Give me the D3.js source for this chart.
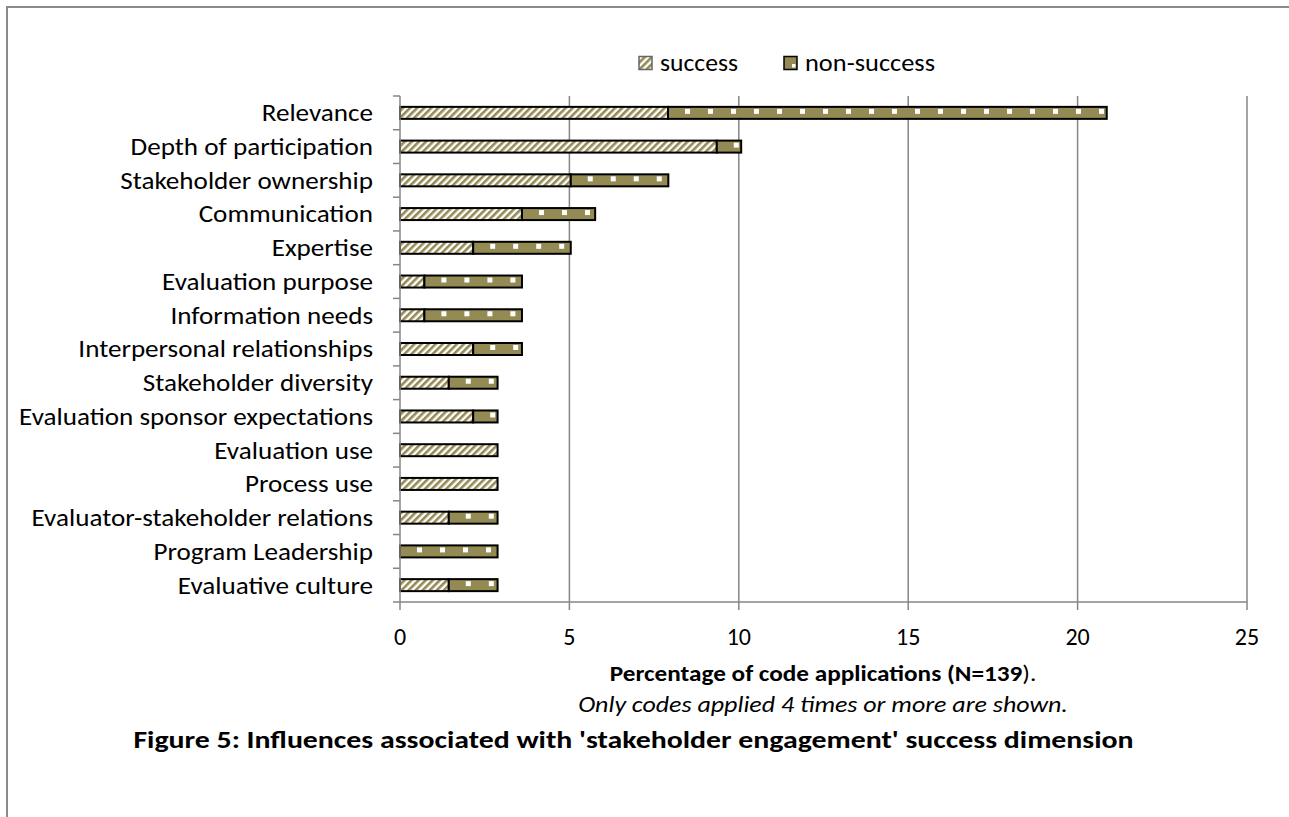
<!DOCTYPE html>
<html><head><meta charset="utf-8">
<script src="https://cdn.jsdelivr.net/npm/d3@7"></script>
<style>
html,body{margin:0;padding:0;background:#fff;}
svg{display:block;}
text{font-family:Carlito, Calibri, Lato, "Open Sans", sans-serif;fill:#000;}
</style></head>
<body>
<svg id="chart" width="1289" height="817"></svg>
<script>
const categories = ["Relevance","Depth of participation","Stakeholder ownership","Communication","Expertise","Evaluation purpose","Information needs","Interpersonal relationships","Stakeholder diversity","Evaluation sponsor expectations","Evaluation use","Process use","Evaluator-stakeholder relations","Program Leadership","Evaluative culture"];
const successVals = [7.91, 9.35, 5.04, 3.60, 2.16, 0.72, 0.72, 2.16, 1.44, 2.16, 2.88, 2.88, 1.44, 0, 1.44];
const nonSuccessVals = [12.95, 0.72, 2.88, 2.16, 2.88, 2.88, 2.88, 1.44, 1.44, 0.72, 0, 0, 1.44, 2.88, 1.44];
const xTicks = [0, 5, 10, 15, 20, 25];
const seriesNames = ["success", "non-success"];

(function(){
const olive = "#948A54";
const gridCol = "#868686";
const svg = d3.select("#chart");
const K = 1.13; // horizontal widening so Lato matches Calibri proportions

function place(sel, px, py, k){
  sel.attr("x",0).attr("y",0).attr("transform",`translate(${px},${py}) scale(${k},1)`);
  return sel;
}
function fitTo(sel, px, py, target){
  const w = sel.node().getComputedTextLength();
  return place(sel, px, py, target / w);
}

// frame
svg.append("rect").attr("x",7).attr("y",7).attr("width",1400).attr("height",1000)
  .attr("fill","none").attr("stroke","#8a8a8a").attr("stroke-width",2);

const pL = 400, pR = 1247, pT = 96, pB = 602;
const x = d3.scaleLinear().domain([0,25]).range([pL,pR]);
const y = d3.scaleBand().domain(categories).range([pT,pB]);
const barH = 12;

const defs = svg.append("defs");
const stripes = defs.append("pattern").attr("id","stripes").attr("patternUnits","userSpaceOnUse")
  .attr("width",5).attr("height",5).attr("patternTransform","rotate(45)");
stripes.append("rect").attr("width",5).attr("height",5).attr("fill","#fff");
stripes.append("rect").attr("width",2.6).attr("height",5).attr("fill",olive);

// grid lines
svg.append("g").selectAll("line").data(xTicks.filter(d=>d>0)).join("line")
  .attr("x1",d=>x(d)).attr("x2",d=>x(d)).attr("y1",pT).attr("y2",pB+8)
  .attr("stroke",gridCol).attr("stroke-width",1.5);

// bars
const rows = categories.map((c,i)=>({c, s:successVals[i], n:nonSuccessVals[i], i}));
const g = svg.append("g");
rows.forEach(r=>{
  const yc = y(r.c) + y.bandwidth()/2;
  const yt = yc - barH/2;
  if (r.s > 0) {
    g.append("rect").attr("x",x(0)).attr("y",yt).attr("width",x(r.s)-x(0)).attr("height",barH)
      .attr("fill","url(#stripes)").attr("stroke","#000").attr("stroke-width",2);
  }
  if (r.n > 0) {
    const x0 = x(r.s);
    const pid = "dots"+r.i;
    const p = defs.append("pattern").attr("id",pid).attr("patternUnits","userSpaceOnUse")
      .attr("x",x0).attr("y",yt).attr("width",23).attr("height",40);
    p.append("rect").attr("width",23).attr("height",40).attr("fill",olive);
    p.append("rect").attr("x",17).attr("y",2).attr("width",5).attr("height",5).attr("fill","#fff");
    g.append("rect").attr("x",x0).attr("y",yt).attr("width",x(r.s+r.n)-x0).attr("height",barH)
      .attr("fill","url(#"+pid+")").attr("stroke","#000").attr("stroke-width",2);
  }
});

// axes
const ax = svg.append("g");
ax.append("line").attr("x1",pL).attr("x2",pL).attr("y1",pT).attr("y2",pB+8)
  .attr("stroke",gridCol).attr("stroke-width",1.5);
ax.append("line").attr("x1",pL).attr("x2",pR).attr("y1",pB).attr("y2",pB)
  .attr("stroke",gridCol).attr("stroke-width",1.5);
const bounds = categories.map(c=>y(c)).concat([pB]);
ax.selectAll("line.yt").data(bounds).join("line").attr("class","yt")
  .attr("x1",pL-7).attr("x2",pL).attr("y1",d=>d).attr("y2",d=>d)
  .attr("stroke",gridCol).attr("stroke-width",1.5);

// category labels
svg.append("g").selectAll("text").data(categories).join("text")
  .attr("text-anchor","end").attr("font-size",24).attr("dy","0.35em").text(d=>d)
  .each(function(d){ place(d3.select(this), 373, y(d)+y.bandwidth()/2, K); });

// x tick labels
svg.append("g").selectAll("text").data(xTicks).join("text")
  .attr("text-anchor","middle").attr("font-size",24).text(d=>d)
  .each(function(d){ place(d3.select(this), x(d), 645, 1.0); });

// axis titles
const t1 = svg.append("text").attr("text-anchor","middle").attr("font-size",22);
t1.append("tspan").attr("font-weight","bold").text("Percentage of code applications (N=139");
t1.append("tspan").text(").");
fitTo(t1, 823, 681, 427);
const t2 = svg.append("text").attr("text-anchor","middle").attr("font-size",22)
  .attr("font-style","italic").text("Only codes applied 4 times or more are shown.");
fitTo(t2, 823, 712, 490);
const t3 = svg.append("text").attr("text-anchor","middle").attr("font-size",24)
  .attr("font-weight","bold").text("Figure 5: Influences associated with 'stakeholder engagement' success dimension");
fitTo(t3, 633.5, 748, 1001);

// legend
const lg = svg.append("g");
const legX = [639, 784];
seriesNames.forEach((n,i)=>{
  let fill = "url(#stripes)";
  if (i===1) {
    const p = defs.append("pattern").attr("id","dotsLeg").attr("patternUnits","userSpaceOnUse")
      .attr("x",legX[i]).attr("y",56).attr("width",14).attr("height",14);
    p.append("rect").attr("width",14).attr("height",14).attr("fill",olive);
    p.append("rect").attr("x",8).attr("y",8).attr("width",3.5).attr("height",3.5).attr("fill","#fff");
    fill = "url(#dotsLeg)";
  }
  lg.append("rect").attr("x",legX[i]).attr("y",56.5).attr("width",13).attr("height",13)
    .attr("fill",fill).attr("stroke",i===0?"#666":"#000").attr("stroke-width",1.5);
  const t = lg.append("text").attr("font-size",24).attr("dy","0.35em").text(n);
  fitTo(t, legX[i]+21, 63, i===0 ? 78 : 130);
});
})();
</script>
</body></html>
